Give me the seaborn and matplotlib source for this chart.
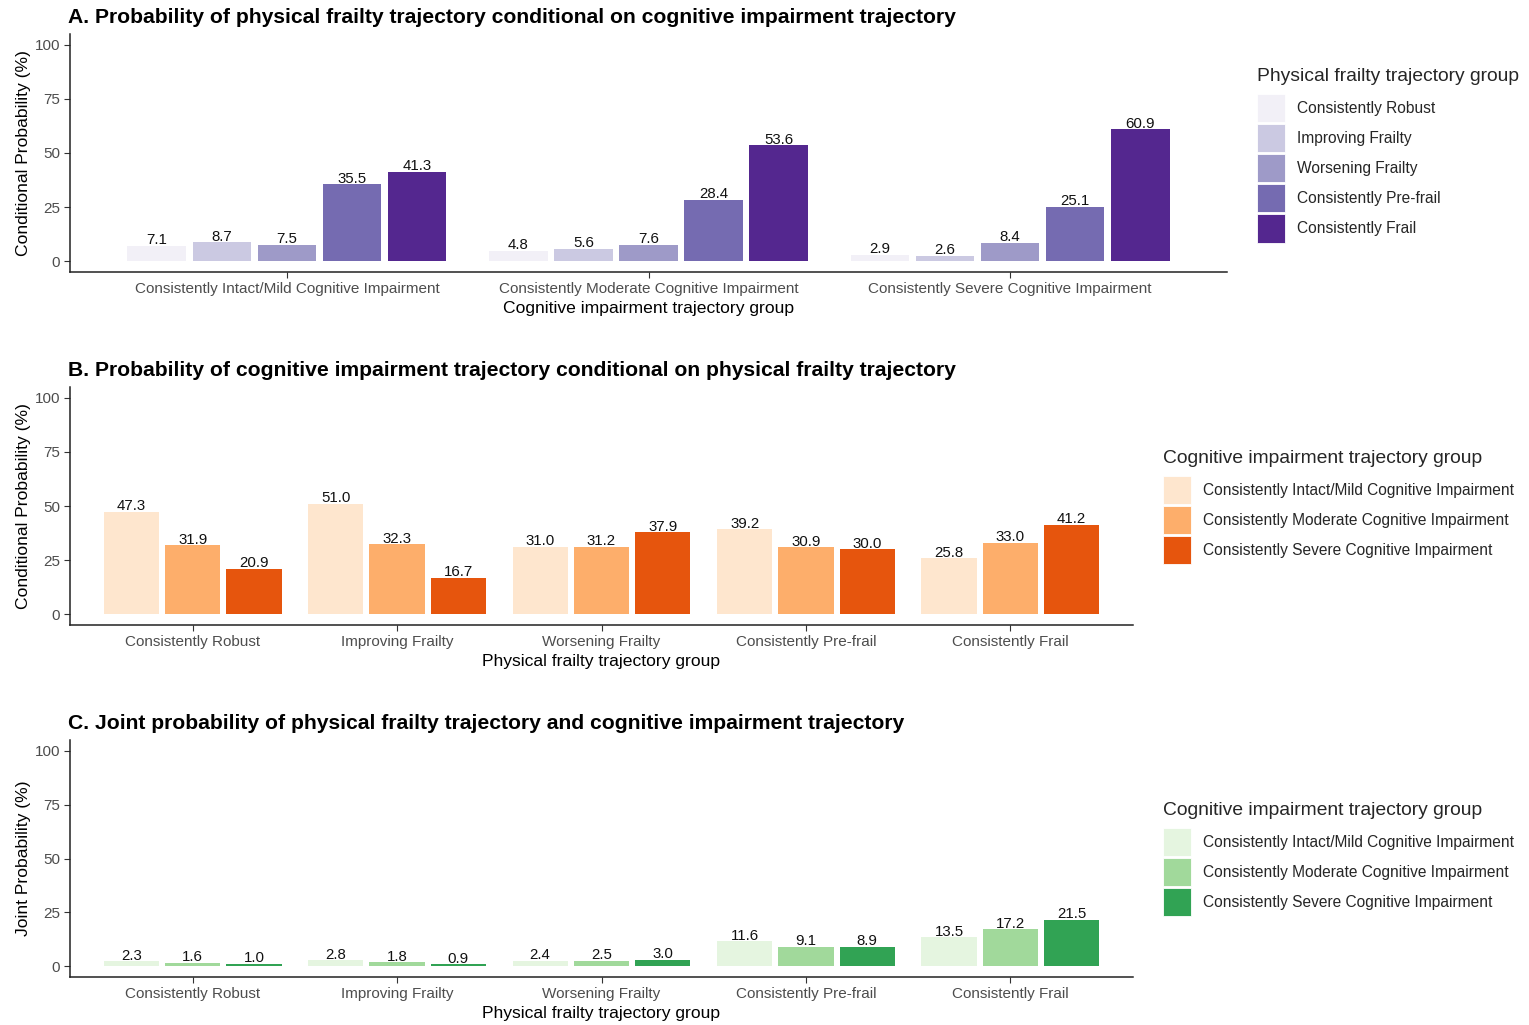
import matplotlib
matplotlib.use("Agg")
import matplotlib.pyplot as plt
from matplotlib.patches import Patch
import pandas as pd
import seaborn as sns

sns.set_theme(style="ticks")
plt.rcParams["font.family"] = ["Liberation Sans", "DejaVu Sans"]

# ---- categories ----
cog_groups = [
    "Consistently Intact/Mild Cognitive Impairment",
    "Consistently Moderate Cognitive Impairment",
    "Consistently Severe Cognitive Impairment",
]
frailty_groups = [
    "Consistently Robust",
    "Improving Frailty",
    "Worsening Frailty",
    "Consistently Pre-frail",
    "Consistently Frail",
]

# ---- A: P(frailty | cognition), rows = cognitive group, cols = frailty group ----
cond_frailty_intact = [7.1, 8.7, 7.5, 35.5, 41.3]
cond_frailty_moderate = [4.8, 5.6, 7.6, 28.4, 53.6]
cond_frailty_severe = [2.9, 2.6, 8.4, 25.1, 60.9]

# ---- B: P(cognition | frailty), rows = frailty group, cols = cognitive group ----
cond_cog_robust = [47.3, 31.9, 20.9]
cond_cog_improving = [51.0, 32.3, 16.7]
cond_cog_worsening = [31.0, 31.2, 37.9]
cond_cog_prefrail = [39.2, 30.9, 30.0]
cond_cog_frail = [25.8, 33.0, 41.2]

# ---- C: joint probability, rows = frailty group, cols = cognitive group ----
joint_robust = [2.3, 1.6, 1.0]
joint_improving = [2.8, 1.8, 0.9]
joint_worsening = [2.4, 2.5, 3.0]
joint_prefrail = [11.6, 9.1, 8.9]
joint_frail = [13.5, 17.2, 21.5]

purples = ["#F2F0F7", "#CBC9E2", "#9E9AC8", "#756BB1", "#54278F"]
oranges = ["#FEE6CE", "#FDAE6B", "#E6550D"]
greens = ["#E5F5E0", "#A1D99B", "#31A354"]


def long_frame(outer, inner, rows):
    recs = []
    for o, vals in zip(outer, rows):
        for i, v in zip(inner, vals):
            recs.append({"x": o, "hue": i, "value": v})
    return pd.DataFrame(recs)


df_a = long_frame(cog_groups, frailty_groups,
                  [cond_frailty_intact, cond_frailty_moderate, cond_frailty_severe])
df_b = long_frame(frailty_groups, cog_groups,
                  [cond_cog_robust, cond_cog_improving, cond_cog_worsening,
                   cond_cog_prefrail, cond_cog_frail])
df_c = long_frame(frailty_groups, cog_groups,
                  [joint_robust, joint_improving, joint_worsening,
                   joint_prefrail, joint_frail])

W, H = 1529, 1025
fig = plt.figure(figsize=(W / 100, H / 100), dpi=100)


def fig_rect(x0, y0, x1, y1):
    return [x0 / W, 1 - y1 / H, (x1 - x0) / W, (y1 - y0) / H]


panels = [
    dict(df=df_a, order=cog_groups, hue_order=frailty_groups, pal=purples,
         rect=fig_rect(70, 34, 1227, 272),
         title="A. Probability of physical frailty trajectory conditional on cognitive impairment trajectory",
         xlabel="Cognitive impairment trajectory group",
         ylabel="Conditional Probability (%)",
         legend_title="Physical frailty trajectory group",
         legend_xy=(1257, 68)),
    dict(df=df_b, order=frailty_groups, hue_order=cog_groups, pal=oranges,
         rect=fig_rect(70, 387, 1133, 625),
         title="B. Probability of cognitive impairment trajectory conditional on physical frailty trajectory",
         xlabel="Physical frailty trajectory group",
         ylabel="Conditional Probability (%)",
         legend_title="Cognitive impairment trajectory group",
         legend_xy=(1163, 450)),
    dict(df=df_c, order=frailty_groups, hue_order=cog_groups, pal=greens,
         rect=fig_rect(70, 740, 1133, 977),
         title="C. Joint probability of physical frailty trajectory and cognitive impairment trajectory",
         xlabel="Physical frailty trajectory group",
         ylabel="Joint Probability (%)",
         legend_title="Cognitive impairment trajectory group",
         legend_xy=(1163, 802)),
]

for p in panels:
    ax = fig.add_axes(p["rect"])
    sns.barplot(data=p["df"], x="x", y="value", hue="hue",
                order=p["order"], hue_order=p["hue_order"], palette=p["pal"],
                width=0.9, gap=0.1, edgecolor="none", linewidth=0,
                saturation=1, legend=False, ax=ax)
    for cont in ax.containers:
        ax.bar_label(cont, fmt="%.1f", padding=-1, fontsize=10.8, color="#111111")
    n = len(p["order"])
    ax.set_xlim(-0.6, n - 0.4)
    ax.set_ylim(-5, 105)
    ax.set_yticks([0, 25, 50, 75, 100])
    ax.tick_params(axis="both", labelsize=11, labelcolor="#4D4D4D",
                   color="#333333", length=4, width=0.8, pad=3)
    ax.set_xlabel(p["xlabel"], fontsize=12.6, color="black", labelpad=4)
    ax.set_ylabel(p["ylabel"], fontsize=12.6, color="black", labelpad=2.5)
    ax.set_title(p["title"], loc="left", fontsize=15.2, fontweight="bold",
                 color="black", pad=8, x=-0.002)
    for side in ("top", "right"):
        ax.spines[side].set_visible(False)
    for side in ("left", "bottom"):
        ax.spines[side].set_color("#222222")
        ax.spines[side].set_linewidth(1.1)

    handles = [Patch(facecolor=c, edgecolor="white", linewidth=0.6) for c in p["pal"]]
    lx, ly = p["legend_xy"]
    leg = fig.legend(handles, p["hue_order"], title=p["legend_title"],
                     loc="upper left", bbox_to_anchor=(lx / W, 1 - ly / H),
                     frameon=False, fontsize=11.2, title_fontsize=13.9,
                     handlelength=1.8, handleheight=2.4, handletextpad=0.75,
                     labelspacing=0.13, borderpad=0, borderaxespad=0,
                     alignment="left")
    # a little more room between the legend title and its keys
    leg._legend_box.sep = 6.5

fig.savefig("out.png", dpi=100, facecolor="white")
